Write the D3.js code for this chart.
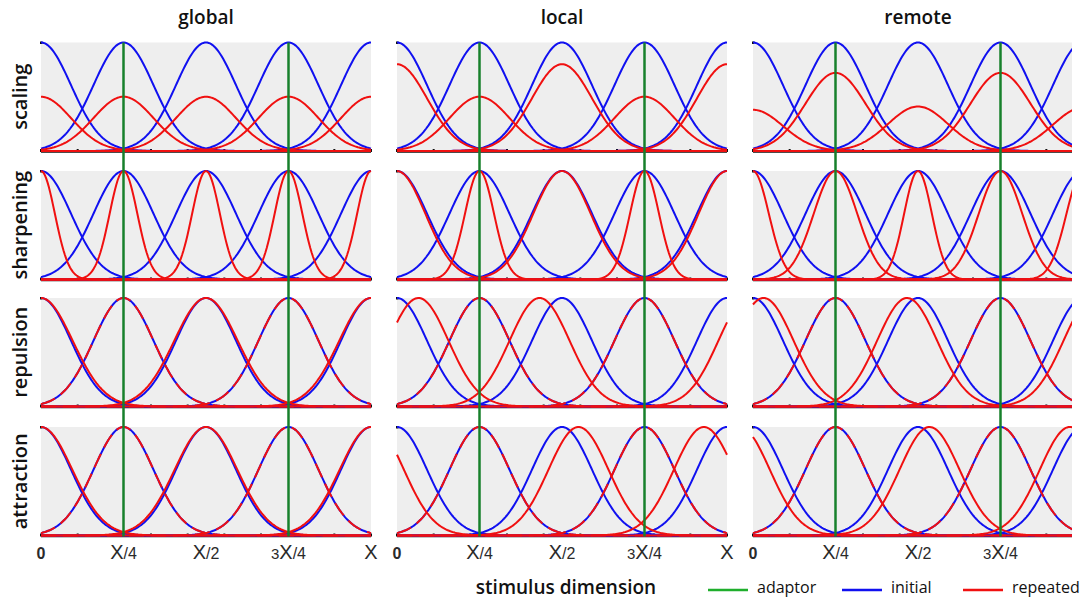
<!DOCTYPE html>
<html lang="en">
<head>
<meta charset="UTF-8">
<title>Adaptation models</title>
<script src="https://d3js.org/d3.v7.min.js"></script>
<style>
body{margin:0;background:#fff;}
text{font-family:'Open Sans',sans-serif;fill:#111;}
</style>
</head>
<body>
<svg width="1081" height="604"></svg>
<script>
// panels
const columns = ['global', 'local', 'remote'];
const rows = ['scaling', 'sharpening', 'repulsion', 'attraction'];

// preferred stimuli of the five neurons (fraction of X) and adaptor positions
const prefs = [0, 0.25, 0.5, 0.75, 1];
const adaptors = [0.25, 0.75];
const tickLabels = ['0', 'X/4', 'X/2', '3X/4', 'X'];
const tickPos = [0, 0.25, 0.5, 0.75, 1];

// initial tuning curves
const initialGain = [1, 1, 1, 1, 1];
const initialWidth = [0.091, 0.091, 0.091, 0.091, 0.091];

// repeated tuning curves, one list per column (global, local, remote)
const scalingGain = [
  [0.5, 0.5, 0.5, 0.5, 0.5],
  [0.8, 0.5, 0.8, 0.5, 0.8],
  [0.38, 0.72, 0.41, 0.72, 0.4]
];
const sharpeningWidth = [
  [0.042, 0.042, 0.042, 0.042, 0.042],
  [0.086, 0.044, 0.087, 0.044, 0.086],
  [0.048, 0.066, 0.042, 0.066, 0.05]
];
const repulsionShift = [
  [0, 0, 0, 0, 0],
  [0.065, 0, -0.068, 0, 0.065],
  [0.032, 0, -0.033, 0, 0.032]
];
const repulsionWidth = [
  [0.096, 0.091, 0.096, 0.091, 0.096],
  [0.091, 0.091, 0.091, 0.091, 0.091],
  [0.091, 0.091, 0.091, 0.091, 0.091]
];
const attractionShift = [
  [0, 0, 0, 0, 0],
  [-0.07, 0, 0.05, 0, -0.07],
  [-0.04, 0, 0.035, 0, -0.04]
];
const attractionWidth = [
  [0.095, 0.091, 0.095, 0.091, 0.095],
  [0.091, 0.091, 0.091, 0.091, 0.091],
  [0.091, 0.091, 0.091, 0.091, 0.091]
];

const svg = d3.select('svg');

const colX = [41, 397, 753];
const panelW = 330;
const rowTop = [42.5, 171, 298, 427];
const panelH = 108.5;
const clipRight = 1072;

const blue = '#1010f0', red = '#f01010', green = '#17802b';

svg.append('clipPath').attr('id', 'page')
  .append('rect').attr('x', 0).attr('y', 0).attr('width', clipRight).attr('height', 604);

function gauss(x, c, s, a) {
  return a * Math.exp(-((x - c) * (x - c)) / (2 * s * s));
}

const xs = d3.range(0, 1.0001, 0.004);

function repeated(r, c) {
  const gain = r === 0 ? scalingGain[c] : initialGain;
  const width = r === 1 ? sharpeningWidth[c] : r === 2 ? repulsionWidth[c] : r === 3 ? attractionWidth[c] : initialWidth;
  const shift = r === 2 ? repulsionShift[c] : r === 3 ? attractionShift[c] : [0, 0, 0, 0, 0];
  return prefs.map((p, i) => ({ c: p + shift[i], s: width[i], a: gain[i] }));
}

columns.forEach((name, c) => {
  const x = d3.scaleLinear().domain([0, 1]).range([colX[c], colX[c] + panelW]);
  const col = svg.append('g').attr('clip-path', 'url(#page)');

  rows.forEach((rname, r) => {
    const y = d3.scaleLinear().domain([0, 1]).range([rowTop[r] + panelH, rowTop[r]]);
    const g = col.append('g');
    const line = d3.line().x(d => x(d[0])).y(d => y(d[1]));

    g.append('rect')
      .attr('x', x(0)).attr('y', y(1))
      .attr('width', panelW).attr('height', panelH)
      .attr('fill', '#eeeeee');

    g.append('line')
      .attr('x1', x(0)).attr('x2', x(1))
      .attr('y1', y(0) + 1).attr('y2', y(0) + 1)
      .attr('stroke', '#111').attr('stroke-width', 1.5);

    g.selectAll('.tick')
      .data(d3.range(0, 10).map(k => k / 9))
      .enter().append('rect')
      .attr('x', d => x(d) - 1).attr('y', y(0) - 2)
      .attr('width', 2).attr('height', 3)
      .attr('fill', '#111');

    g.append('rect').attr('x', x(0) - 1).attr('y', y(1) - 1).attr('width', 2.5).attr('height', 2.5).attr('fill', '#111');

    // initial curves
    prefs.forEach((p, i) => {
      g.append('path')
        .attr('d', line(xs.map(v => [v, gauss(v, p, initialWidth[i], initialGain[i])])))
        .attr('fill', 'none').attr('stroke', blue).attr('stroke-width', 2);
    });

    // repeated curves
    repeated(r, c).forEach((q, i) => {
      const same = Math.abs(q.c - prefs[i]) < 0.005 && Math.abs(q.s - initialWidth[i]) < 0.003 && q.a === 1;
      g.append('path')
        .attr('d', line(xs.map(v => [v, gauss(v, q.c, q.s, q.a)])))
        .attr('fill', 'none').attr('stroke', red).attr('stroke-width', 2)
        .attr('stroke-dasharray', same ? '15,7' : null);
    });
  });

  // adaptor lines
  col.selectAll('.adaptor')
    .data(adaptors)
    .enter().append('line')
    .attr('x1', d => x(d)).attr('x2', d => x(d))
    .attr('y1', rowTop[0]).attr('y2', rowTop[3] + panelH + 1)
    .attr('stroke', green).attr('stroke-width', 2.5);

  // column title
  svg.append('text')
    .attr('x', x(0.5)).attr('y', 24)
    .attr('text-anchor', 'middle')
    .style('font-size', '19px').style('font-weight', 600)
    .text(name);

  // tick labels (the right edge of the figure is cropped)
  tickLabels.forEach((t, i) => {
    if (x(tickPos[i]) + 8 > clipRight) return;
    const tx = svg.append('text')
      .attr('x', x(tickPos[i])).attr('y', 559)
      .attr('text-anchor', 'middle')
      .style('font-family', "'Liberation Sans', sans-serif")
      .style('fill', '#2a2a2a');
    const m = t.match(/^(3?)(X?)(\/\d)?$/);
    if (t === '0') {
      tx.append('tspan').style('font-size', '16px').style('font-weight', 700).text('0');
    } else {
      if (m[1]) tx.append('tspan').style('font-size', '15px').text(m[1]);
      tx.append('tspan').style('font-size', '20px').text('X');
      if (m[3]) tx.append('tspan').style('font-size', '16px').text(m[3]);
    }
  });
});

// row labels
rows.forEach((rname, r) => {
  svg.append('text')
    .attr('transform', `translate(27, ${rowTop[r] + panelH / 2}) rotate(-90)`)
    .attr('text-anchor', 'middle')
    .style('font-size', '20px').style('font-weight', 600)
    .text(rname);
});

svg.append('text')
  .attr('x', 566).attr('y', 594)
  .attr('text-anchor', 'middle')
  .style('font-size', '19px').style('font-weight', 600)
  .text('stimulus dimension');

// legend
const legend = [
  { label: 'adaptor', color: '#1fae2c', x: 708 },
  { label: 'initial', color: blue, x: 842 },
  { label: 'repeated', color: red, x: 963 }
];
legend.forEach(d => {
  svg.append('line')
    .attr('x1', d.x).attr('x2', d.x + 40)
    .attr('y1', 590).attr('y2', 590)
    .attr('stroke', d.color).attr('stroke-width', 2.5);
  svg.append('text')
    .attr('x', d.x + 49).attr('y', 593)
    .style('font-size', '16px').style('font-weight', 500)
    .text(d.label);
});
</script>
</body>
</html>
